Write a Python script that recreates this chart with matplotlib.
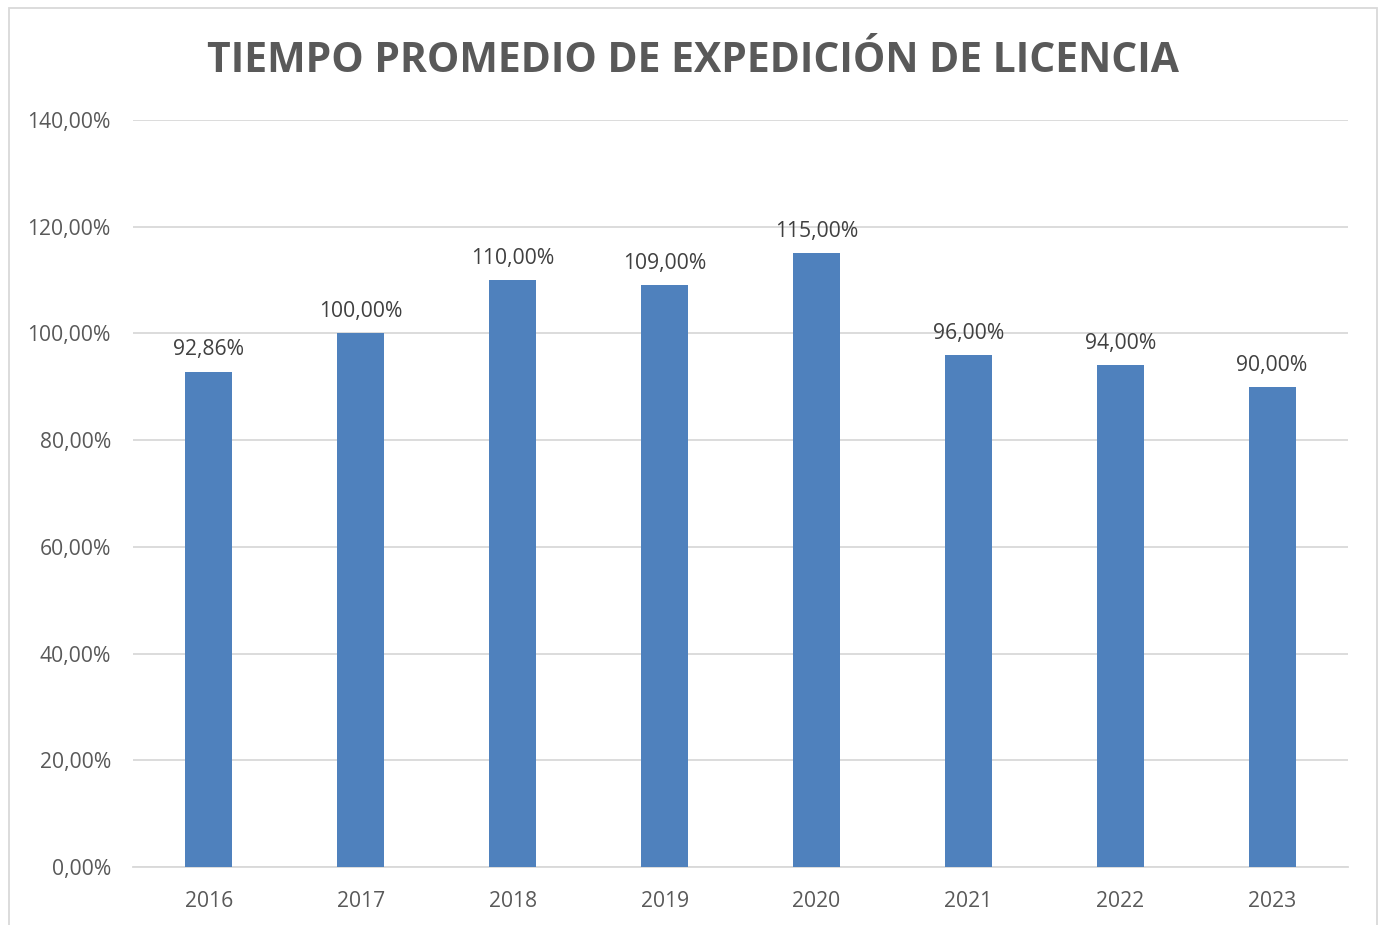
import matplotlib.pyplot as plt
from matplotlib.patches import Rectangle

years = ['2016', '2017', '2018', '2019', '2020', '2021', '2022', '2023']
values = [92.86, 100.00, 110.00, 109.00, 115.00, 96.00, 94.00, 90.00]
title = 'TIEMPO PROMEDIO DE EXPEDICIÓN DE LICENCIA'

plt.rcParams['font.family'] = ['Open Sans', 'DejaVu Sans']

W, H = 1381, 925
fig = plt.figure(figsize=(W / 100, H / 100), dpi=100)

# chart area border (bottom edge is cut off in the original)
fig.add_artist(Rectangle((9 / W, -0.01), (1377 - 9) / W, (H - 8) / H + 0.01,
                         transform=fig.transFigure, fill=False,
                         edgecolor='#D9D9D9', linewidth=1.3))

ax = fig.add_axes([133 / W, 1 - 867 / H, (1348 - 133) / W, (867 - 120) / H])

x = range(len(years))
ax.bar(x, values, width=0.31, color='#4F81BD', zorder=3)
ax.set_xlim(-0.5, len(years) - 0.5)
ax.set_ylim(0, 140)
ax.set_yticks(range(0, 141, 20))
ax.set_yticklabels([f'{v:.2f}'.replace('.', ',') + '%' for v in range(0, 141, 20)])
ax.set_xticks(list(x))
ax.set_xticklabels(years)

ax.grid(axis='y', color='#D9D9D9', linewidth=1.3, zorder=0)
for s in ['top', 'right', 'left']:
    ax.spines[s].set_visible(False)
ax.spines['bottom'].set_color('#D9D9D9')
ax.spines['bottom'].set_linewidth(1.3)
ax.tick_params(axis='both', length=0, labelsize=15.2, colors='#595959')
ax.tick_params(axis='y', pad=16)
ax.tick_params(axis='x', pad=17.5)

for i, v in enumerate(values):
    ax.annotate(f'{v:.2f}'.replace('.', ',') + '%', (i, v), xytext=(0, 8),
                textcoords='offset points', ha='center', va='bottom',
                fontsize=15.2, color='#404040')

fig.text(693 / W, 1 - 62 / H, title, ha='center', va='center',
         fontsize=29.4, fontweight='bold', color='#595959')

fig.savefig('out.png', dpi=100)
